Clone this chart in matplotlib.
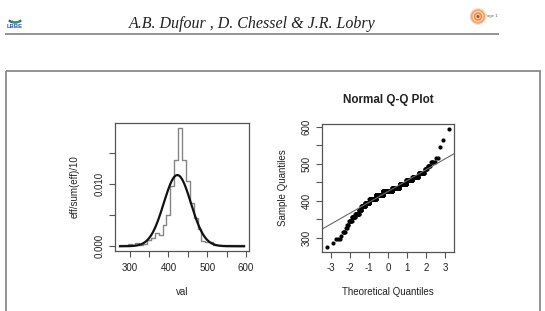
import numpy as np
import matplotlib
matplotlib.use("Agg")
import matplotlib.pyplot as plt
from matplotlib.patches import Rectangle, Circle, Arc
from statistics import NormalDist

plt.rcParams['font.family'] = ['Liberation Sans', 'DejaVu Sans']

# ---- data ----
val = [275, 285, 295, 305, 315, 325, 335, 345, 355, 365, 375, 385, 395, 405, 415,
       425, 435, 445, 455, 465, 475, 485, 495, 505, 515, 545, 565, 595]
eff = [1, 1, 3, 1, 4, 2, 3, 7, 10, 16, 13, 25, 37, 71, 102,
       140, 102, 77, 51, 34, 20, 6, 5, 5, 2, 1, 1, 1]
curve_mean = 423.0
curve_sd = 35.0

hist_xticks = [300, 350, 400, 450, 500, 550, 600]
hist_xticklabels = ['300', '', '400', '', '500', '', '600']
hist_yticks = [0.0, 0.005, 0.010, 0.015]
hist_yticklabels = ['0.000', '', '0.010', '']
qq_xticks = [-3, -2, -1, 0, 1, 2, 3]
qq_xticklabels = ['-3', '-2', '-1', '0', '1', '2', '3']
qq_yticks = [300, 350, 400, 450, 500, 550, 600]
qq_yticklabels = ['300', '', '400', '', '500', '', '600']

header_text = 'A.B. Dufour , D. Chessel & J.R. Lobry'

# ---- derived ----
val_a = np.array(val, dtype=float)
eff_a = np.array(eff, dtype=float)
dens = eff_a / eff_a.sum() / 10
sample = np.sort(np.repeat(val_a, eff))
n = len(sample)
nd = NormalDist()
theo = np.array([nd.inv_cdf((i - 0.5) / n) for i in range(1, n + 1)])
q1, q3 = np.percentile(sample, [25, 75])
t1, t3 = nd.inv_cdf(0.25), nd.inv_cdf(0.75)
slope = (q3 - q1) / (t3 - t1)
inter = q1 - slope * t1

W, H = 545, 311
fig = plt.figure(figsize=(W / 100, H / 100), dpi=100)

# overlay in pixel coordinates
ov = fig.add_axes([0, 0, 1, 1])
ov.set_xlim(0, W)
ov.set_ylim(H, 0)
ov.axis('off')

# header
ov.plot([5, 499], [33.5, 33.5], color='#8a8a8a', lw=1.3, solid_capstyle='butt')
ov.text(252, 28, header_text, ha='center', va='baseline', fontsize=11.5,
        family=['Liberation Serif', 'DejaVu Serif'], style='italic', color='#222222')
# left logo
ov.add_patch(Arc((15, 18), 14, 9, theta1=20, theta2=160, color='#2a5aa0', lw=1.6))
ov.add_patch(Arc((16, 20), 9, 5, theta1=20, theta2=170, color='#3a9a50', lw=1.2))
ov.text(15, 28, 'LBBE', ha='center', va='baseline', fontsize=4.2, color='#2a5aa0',
        fontweight='bold')
# right logo
ov.text(484, 16.5, 'Page 1', ha='left', va='center', fontsize=3.2, color='#666666')
for r, c in [(8.5, '#fbe0c8'), (7.2, '#f2a468'), (5.6, '#fbd2b0'), (4.2, '#ee8a48'),
             (2.8, '#f8c8a0'), (1.5, '#b84a20')]:
    ov.add_patch(Circle((478, 16.5), r, facecolor=c, edgecolor='none', zorder=3))

# frame
ov.add_patch(Rectangle((6, 71), 534, 260, fill=False, edgecolor='#8a8a8a', lw=1.3))

axis_col = '#555555'
text_col = '#222222'

def style(ax):
    ax.set_facecolor('none')
    for s in ax.spines.values():
        s.set_color(axis_col)
        s.set_linewidth(0.9)
    ax.tick_params(direction='out', length=4, width=0.8, color=axis_col,
                   labelsize=7, labelcolor=text_col)
    ax.tick_params(axis='x', pad=4.6)
    ax.tick_params(axis='y', pad=3.4)

def rlim(lo, hi):
    p = 0.04 * (hi - lo)
    return lo - p, hi + p

# ---- left plot ----
ax1 = fig.add_axes([115 / W, 1 - 251 / H, (249 - 115) / W, (251 - 123.5) / H])
style(ax1)
ax1.plot(val_a, dens, drawstyle='steps-post', color='#858585', lw=1.0)
xs = np.linspace(val_a.min(), val_a.max(), 300)
ys = np.array([NormalDist(curve_mean, curve_sd).pdf(x) for x in xs])
ax1.plot(xs, ys, color='#111111', lw=1.6)
ax1.set_xlim(*rlim(val_a.min(), val_a.max()))
ax1.set_ylim(*rlim(0, dens.max()))
ax1.set_xticks(hist_xticks)
ax1.set_xticklabels(hist_xticklabels)
ax1.set_yticks(hist_yticks)
ax1.set_yticklabels(hist_yticklabels, rotation=90, va='center')

ov.text(182, 292, 'val', ha='center', va='center', fontsize=7, color=text_col)
ov.text(75, 187, 'eff/sum(eff)/10', ha='center', va='center', rotation=90,
        fontsize=7, color=text_col)

# ---- right plot ----
ax2 = fig.add_axes([321.7 / W, 1 - 251.5 / H, (454.3 - 321.7) / W, (251.5 - 124) / H])
style(ax2)
ax2.plot(theo, sample, 'o', ms=3.0, color='black', mew=0)
ax2.set_xlim(*rlim(theo.min(), theo.max()))
ax2.set_ylim(*rlim(sample.min(), sample.max()))
ax2.axline((0, inter), slope=slope, color='#6a6a6a', lw=0.8)
ax2.set_xticks(qq_xticks)
ax2.set_xticklabels(qq_xticklabels)
ax2.set_yticks(qq_yticks)
ax2.set_yticklabels(qq_yticklabels, rotation=90, va='center')

ov.text(388, 100, 'Normal Q-Q Plot', ha='center', va='center', fontsize=8.4,
        fontweight='bold', color=text_col)
ov.text(388, 292, 'Theoretical Quantiles', ha='center', va='center', fontsize=7,
        color=text_col)
ov.text(283, 188, 'Sample Quantiles', ha='center', va='center', rotation=90,
        fontsize=7, color=text_col)

fig.savefig('out.png', dpi=100)
